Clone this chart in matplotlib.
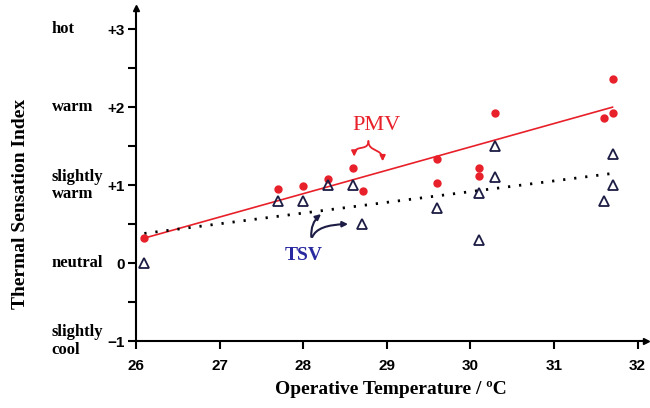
import numpy as np
import matplotlib.pyplot as plt

# PMV data (red dots)
pmv_temp = [26.1, 27.7, 28.0, 28.3, 28.6, 28.72, 29.6, 29.6, 30.1, 30.1, 30.3, 31.6, 31.7, 31.7]
pmv_val = [0.32, 0.95, 0.99, 1.08, 1.22, 0.92, 1.34, 1.03, 1.22, 1.12, 1.93, 1.86, 1.93, 2.36]

# TSV data (open triangles)
tsv_temp = [26.1, 27.7, 28.0, 28.3, 28.6, 28.7, 29.6, 30.1, 30.1, 30.3, 30.3, 31.6, 31.7, 31.7]
tsv_val = [0.0, 0.8, 0.8, 1.0, 1.0, 0.5, 0.7, 0.3, 0.9, 1.5, 1.1, 0.8, 1.4, 1.0]

# regression line ends
fit_temp = [26.1, 31.7]
pmv_fit = [0.32, 2.0]
tsv_fit = [0.38, 1.15]

yticks = [-1, 0, 1, 2, 3]
ytick_labels = ['\u22121', '0', '+1', '+2', '+3']
scale_labels = ['slightly\ncool', 'neutral', 'slightly\nwarm', 'warm', 'hot']
xticks = [26, 27, 28, 29, 30, 31, 32]

red = '#e8202a'
navy = '#1c1c44'
serif = ['Liberation Serif', 'DejaVu Serif']
sans = ['Liberation Sans', 'DejaVu Sans']

fig = plt.figure(figsize=(6.5, 4.08), dpi=100)
ax = fig.add_axes([0.2092, 0.1642, 0.7846, 0.8158])

ax.plot(fit_temp, pmv_fit, color=red, lw=1.2, zorder=2)
ax.plot(fit_temp, tsv_fit, color='black', lw=2, linestyle=(0, (0.8, 3.2)), zorder=2)
ax.plot(pmv_temp, pmv_val, 'o', color=red, ms=5, zorder=3, clip_on=False)
ax.plot(tsv_temp, tsv_val, '^', mfc='none', mec=navy, mew=1.3, ms=7.5, zorder=3, clip_on=False)

ax.set_xlim(26, 32.1)
ax.set_ylim(-1, 3.27)

for s in ['top', 'right']:
    ax.spines[s].set_visible(False)
for s in ['left', 'bottom']:
    ax.spines[s].set_linewidth(1.5)

ax.set_xticks(xticks)
ax.set_xticklabels([str(t) for t in xticks], fontfamily=sans, fontsize=11, fontweight='bold')
ax.set_yticks(yticks)
ax.set_yticklabels(ytick_labels, fontfamily=sans, fontsize=11, fontweight='bold')
ax.set_yticks([-0.5, 0.5, 1.5, 2.5], minor=True)
ax.tick_params(axis='both', which='both', direction='out', length=6, width=1.5, pad=2)
ax.tick_params(axis='x', pad=7)

# axis arrows
ax.plot(1, -1, '>', color='black', ms=5, transform=ax.get_yaxis_transform(), clip_on=False)
ax.plot(26, 1, '^', color='black', ms=5, transform=ax.get_xaxis_transform(), clip_on=False)

# thermal sensation scale names
for v, lab in zip(yticks, scale_labels):
    ax.text(-0.165, v, lab, transform=ax.get_yaxis_transform(), ha='left', va='center',
            fontfamily=serif, fontweight='bold', fontsize=12, linespacing=1.1)

ax.set_xlabel('Operative Temperature / \u00baC', fontfamily=serif, fontweight='bold', fontsize=14, labelpad=6)
fig.text(0.032, 0.50, 'Thermal Sensation Index', rotation=90, ha='center', va='center',
         fontfamily=serif, fontweight='bold', fontsize=14)

# PMV label with brace-like arrows
ax.text(28.88, 1.77, 'PMV', color=red, fontfamily=serif, fontsize=16, ha='center', va='center')
for tip in [(28.61, 1.33), (28.95, 1.27)]:
    ax.annotate('', xy=tip, xytext=(28.78, 1.6),
                arrowprops=dict(arrowstyle='-|>', color=red, lw=1.3, mutation_scale=8,
                                connectionstyle='arc,angleA=-90,angleB=90,armA=8,armB=10,rad=5'))

# TSV label with arrows
ax.text(28.0, 0.1, 'TSV', color='#2828a0', fontfamily=serif, fontweight='bold', fontsize=14,
        ha='center', va='center')
ax.annotate('', xy=(28.24, 0.65), xytext=(28.1, 0.3),
            arrowprops=dict(arrowstyle='-|>', color=navy, lw=1.5, mutation_scale=8,
                            connectionstyle='arc3,rad=-0.3'))
ax.annotate('', xy=(28.57, 0.5), xytext=(28.1, 0.3),
            arrowprops=dict(arrowstyle='-|>', color=navy, lw=1.5, mutation_scale=8,
                            connectionstyle='angle3,angleA=80,angleB=0'))

fig.savefig('out.png', dpi=100)
